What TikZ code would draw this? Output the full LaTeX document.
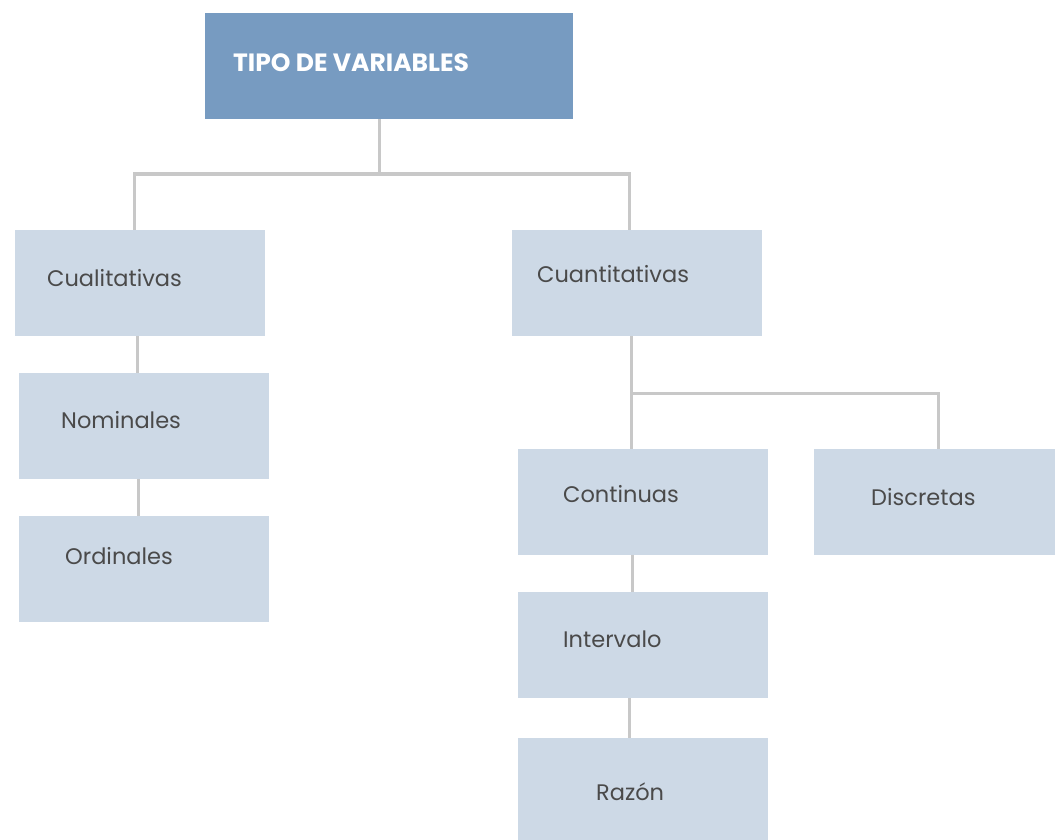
\documentclass[tikz,border=0pt]{standalone}
\usepackage{fontspec}
\setmainfont{Poppins}
\definecolor{titlefill}{HTML}{779BC1}
\definecolor{boxfill}{HTML}{CDD9E6}
\definecolor{linecol}{HTML}{C8C8C8}
\definecolor{txtcol}{HTML}{4A4A4A}
\begin{document}
\begin{tikzpicture}[x=1pt,y=-1pt,
  box/.style={fill=boxfill, draw=none, anchor=north west, minimum width=250pt, minimum height=106pt, inner sep=0pt},
  titlebox/.style={fill=titlefill, draw=none, anchor=north west, minimum width=368pt, minimum height=106pt, inner sep=0pt},
  txt/.style={anchor=base west, inner sep=0pt, text=txtcol, font=\fontsize{22.5}{27}\selectfont},
  ttxt/.style={anchor=base west, inner sep=0pt, text=white, font=\fontsize{25}{30}\selectfont\bfseries},
  conn/.style={draw=linecol, line width=3pt}]
\useasboundingbox (0,0) rectangle (1055,840);
\node[titlebox] (tipo) at (205,13) {};
\node[ttxt] (tipot) at (233,72) {TIPO DE VARIABLES};
\node[box] (cual) at (15,230) {};
\node[txt] (cualt) at (47,286) {Cualitativas};
\node[box] (cuan) at (512,230) {};
\node[txt] (cuant) at (537,282) {Cuantitativas};
\node[box] (nom) at (19,373) {};
\node[txt] (nomt) at (61,428) {Nominales};
\node[box] (ord) at (19,516) {};
\node[txt] (ordt) at (65,564) {Ordinales};
\node[box] (cont) at (518,449) {};
\node[txt] (contt) at (563,502) {Continuas};
\node[box, minimum width=241pt] (disc) at (814,449) {};
\node[txt] (disct) at (871,505) {Discretas};
\node[box] (inter) at (518,592) {};
\node[txt] (intert) at (563,647) {Intervalo};
\node[box, minimum height=102pt] (raz) at (518,738) {};
\node[txt] (razt) at (596,800) {Razón};
\coordinate (j1) at (379,174);
\coordinate (j2) at (631,393);
\draw[conn] (tipo.south -| j1) -- (j1);
\draw[conn] (j1) -| (cual.north -| 134,0);
\draw[conn] (j1) -| (cuan.north -| 629,0);
\draw[conn] (cual.south -| 137,0) -- (nom.north -| 137,0);
\draw[conn] (nom.south -| 138,0) -- (ord.north -| 138,0);
\draw[conn] (cuan.south -| j2) -- (cont.north -| j2);
\draw[conn] (j2) -| (disc.north -| 938,0);
\draw[conn] (cont.south -| 632,0) -- (inter.north -| 632,0);
\draw[conn] (inter.south -| 629,0) -- (raz.north -| 629,0);
\end{tikzpicture}
\end{document}
